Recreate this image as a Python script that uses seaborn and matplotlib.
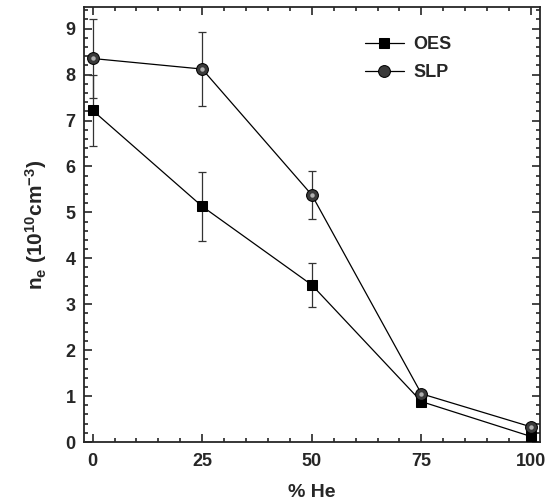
import matplotlib
matplotlib.use("Agg")
import matplotlib.pyplot as plt
import seaborn as sns
import pandas as pd
from matplotlib.ticker import MultipleLocator

he = [0, 25, 50, 75, 100]
oes = [7.22, 5.13, 3.42, 0.88, 0.12]
oes_err = [0.77, 0.75, 0.48, 0.0, 0.0]
slp = [8.35, 8.12, 5.38, 1.05, 0.33]
slp_err = [0.85, 0.80, 0.53, 0.0, 0.0]

sns.set_theme(style="ticks")
plt.rcParams['font.family'] = ['Liberation Sans', 'DejaVu Sans']
plt.rcParams['font.weight'] = 'bold'
plt.rcParams['mathtext.fontset'] = 'custom'
plt.rcParams['mathtext.rm'] = 'Liberation Sans:bold'
plt.rcParams['mathtext.bf'] = 'Liberation Sans:bold'
plt.rcParams['mathtext.it'] = 'Liberation Sans:bold'

df = pd.concat([
    pd.DataFrame({"he": he, "ne": oes, "series": "OES"}),
    pd.DataFrame({"he": he, "ne": slp, "series": "SLP"}),
])

fig = plt.figure(figsize=(5.48, 5.04), dpi=100)
ax = fig.add_axes([0.153, 0.123, 0.832, 0.863])

ax.errorbar(he, oes, yerr=oes_err, fmt="none", ecolor="#333333", elinewidth=0.9, capsize=3, capthick=0.9, zorder=1)
ax.errorbar(he, slp, yerr=slp_err, fmt="none", ecolor="#333333", elinewidth=0.9, capsize=3, capthick=0.9, zorder=1)

sns.lineplot(data=df[df.series == "OES"], x="he", y="ne", color="black", lw=0.9,
             marker="s", markersize=7.5, markerfacecolor="black", markeredgecolor="black",
             label="OES", ax=ax, zorder=3)
sns.lineplot(data=df[df.series == "SLP"], x="he", y="ne", color="black", lw=0.9,
             marker="o", markersize=8.5, markerfacecolor="#3a3a3a", markeredgecolor="black",
             label="SLP", ax=ax, zorder=3)
# highlight on spheres
ax.plot(he, slp, ls="none", marker="o", markersize=3.2, markerfacecolor="#b0b0b0",
        markeredgewidth=0, zorder=4)

ax.set_xlim(-2, 102)
ax.set_ylim(0, 9.47)
ax.xaxis.set_major_locator(MultipleLocator(25))
ax.xaxis.set_minor_locator(MultipleLocator(5))
ax.yaxis.set_major_locator(MultipleLocator(1))
ax.yaxis.set_minor_locator(MultipleLocator(0.2))
ax.tick_params(which="both", direction="in", top=True, right=True, width=1.2, labelsize=13)
ax.tick_params(which="major", length=6)
ax.tick_params(which="minor", length=3)
ax.tick_params(axis="x", pad=8)
ax.tick_params(axis="y", pad=6)
for s in ax.spines.values():
    s.set_linewidth(1.3)
for lab in ax.get_xticklabels() + ax.get_yticklabels():
    lab.set_fontweight("bold")

ax.set_xlabel("% He", fontsize=14, fontweight="bold", labelpad=10)
ax.set_ylabel(r"n$_\mathregular{e}$ (10$^\mathregular{10}$cm$^\mathregular{-3}$)", fontsize=15,
              fontweight="bold", labelpad=12)

leg = ax.legend(loc="upper left", bbox_to_anchor=(0.58, 0.97), frameon=False, fontsize=13,
                handlelength=2.2, labelspacing=0.6, handletextpad=0.5)
for t in leg.get_texts():
    t.set_fontweight("bold")

fig.savefig("out.png", dpi=100)
